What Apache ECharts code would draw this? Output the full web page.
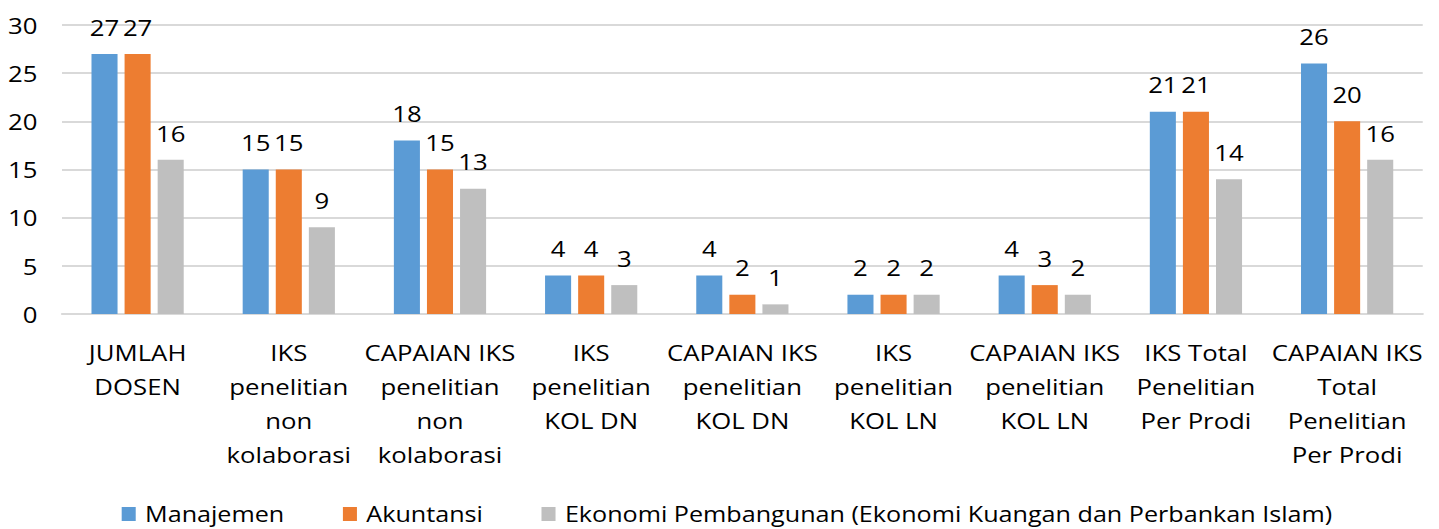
<!DOCTYPE html>
<html>
<head>
<meta charset="utf-8">
<script src="https://cdn.jsdelivr.net/npm/echarts@6/dist/echarts.min.js"></script>
<style>
  html, body { margin: 0; padding: 0; background: #fff; overflow: hidden; }
  /* the original picture is stretched horizontally, so draw narrower and stretch */
  #chart { width: 1230px; height: 529px; transform: scaleX(1.17); transform-origin: 0 0; }
</style>
</head>
<body>
<div id="chart"></div>
<script>
// kategori (baris dipecah seperti di gambar)
var categories = [
  'JUMLAH\nDOSEN',
  'IKS\npenelitian\nnon\nkolaborasi',
  'CAPAIAN IKS\npenelitian\nnon\nkolaborasi',
  'IKS\npenelitian\nKOL DN',
  'CAPAIAN IKS\npenelitian\nKOL DN',
  'IKS\npenelitian\nKOL LN',
  'CAPAIAN IKS\npenelitian\nKOL LN',
  'IKS Total\nPenelitian\nPer Prodi',
  'CAPAIAN IKS\nTotal\nPenelitian\nPer Prodi'
]
var seriesNames = ['Manajemen', 'Akuntansi', 'Ekonomi Pembangunan (Ekonomi Kuangan dan Perbankan Islam)']
var manajemen = [27, 15, 18, 4, 4, 2, 4, 21, 26]
var akuntansi = [27, 15, 15, 4, 2, 2, 3, 21, 20]
var ekonomi = [16, 9, 13, 3, 1, 2, 2, 14, 16]
var yTicks = [0, 5, 10, 15, 20, 25, 30]

var colors = ['#5b9bd5', '#ed7d31', '#bfbfbf']
var font = '"Open Sans", "Noto Sans", sans-serif'

function bar(name, data) {
  return {
    name: name,
    type: 'bar',
    data: data,
    barGap: '27%',
    barCategoryGap: '39%',
    label: {
      show: true,
      position: 'top',
      distance: 16,
      color: '#000',
      fontFamily: font,
      fontSize: 22
    }
  }
}

var chart = echarts.init(document.getElementById('chart'), null, { renderer: 'svg' })
chart.setOption({
  animation: false,
  color: colors,
  textStyle: { fontFamily: font },
  grid: { left: 53, right: 14, top: 25, bottom: 215 },
  legend: {
    bottom: 4,
    left: 104,
    padding: 0,
    itemWidth: 12,
    itemHeight: 14,
    itemGap: 50,
    icon: 'rect',
    textStyle: { fontFamily: font, fontSize: 21.5, color: '#000', padding: [0, 0, 0, 3] },
    data: seriesNames
  },
  xAxis: {
    type: 'category',
    data: categories,
    axisLine: { lineStyle: { color: '#d9d9d9', width: 2 } },
    axisTick: { show: false },
    axisLabel: {
      interval: 0,
      margin: 21,
      color: '#000',
      fontFamily: font,
      fontSize: 22,
      lineHeight: 34,
      verticalAlign: 'top'
    }
  },
  yAxis: {
    type: 'value',
    min: yTicks[0],
    max: yTicks[yTicks.length - 1],
    interval: 5,
    axisLine: { show: false },
    axisTick: { show: false },
    splitLine: { lineStyle: { color: '#d9d9d9', width: 2 } },
    axisLabel: { color: '#000', fontFamily: font, fontSize: 22, margin: 21 }
  },
  series: [
    bar(seriesNames[0], manajemen),
    bar(seriesNames[1], akuntansi),
    bar(seriesNames[2], ekonomi)
  ]
})
</script>
</body>
</html>
